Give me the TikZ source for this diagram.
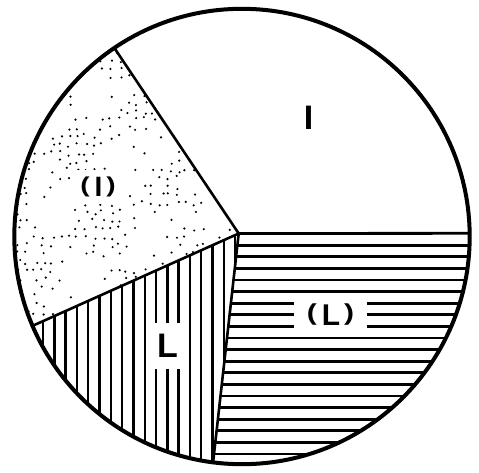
\documentclass[tikz,border=0pt]{standalone}
\usepackage{fontspec}
\setmainfont{Liberation Sans}
\usepackage{graphicx}
\usetikzlibrary{calc}
\newcommand{\lpar}{\raisebox{0.162em}{\scalebox{1}[0.77]{(}}}
\newcommand{\rpar}{\raisebox{0.162em}{\scalebox{1}[0.77]{)}}}
\tikzset{
  rim/.style={line width=4pt},
  ray/.style={line width=2.6pt},
  hstripe/.style={line width=2.8pt},
  vstripe/.style={line width=2.4pt},
  lbl/.style={inner sep=0pt, font=\bfseries},
  lblbox/.style={lbl, fill=white},
}
\begin{document}
\begin{tikzpicture}[x=1pt,y=-1pt]
\useasboundingbox (0,0) rectangle (479,473);
\coordinate (O) at (242,236.5);
\coordinate (C) at (238.7,233.5);
\coordinate (A) at ($(O)+(124.1:227.7pt)$);
\coordinate (B) at ($(O)+(0.8:227.7pt)$);
\coordinate (D) at ($(O)+(262.7:227.7pt)$);
\coordinate (E) at ($(O)+(203.1:227.7pt)$);
\coordinate (Ax) at ($(C)!1.6!(A)$);
\coordinate (Bx) at ($(C)!1.6!(B)$);
\coordinate (Dx) at ($(C)!1.6!(D)$);
\coordinate (Ex) at ($(C)!1.6!(E)$);

% stippled sector (I)
\begin{scope}
  \clip (O) circle[radius=227.7];
  \clip (C) -- (Ex) -- (-100,-100) -- (Ax) -- cycle;
  \pgfmathsetseed{2718}
  \foreach \i in {0,...,27}{
    \foreach \j in {0,...,34}{
      \pgfmathsetmacro\px{10+8.4*\i+5*rnd-2.5}
      \pgfmathsetmacro\py{44+8.4*\j+5*rnd-2.5}
      \pgfmathtruncatemacro\keep{(rnd < 0.45+0.55*sin(3.5*\px+1.2*\py)*cos(2.8*\py-0.9*\px)) ? 1 : 0}
      \ifnum\keep=1 \fill (\px,\py) circle[radius=1.2]; \fi
    }
  }
\end{scope}

% horizontal stripes (L)
\begin{scope}
  \clip (O) circle[radius=227.7];
  \clip (C) -- (Bx) -- (560,600) -- (Dx) -- cycle;
  \foreach \k in {1,...,20}
    \draw[hstripe] (150,233.5+11.6*\k) -- (480,233.5+11.6*\k);
\end{scope}

% vertical stripes L
\begin{scope}
  \clip (O) circle[radius=227.7];
  \clip (C) -- (Dx) -- (-100,600) -- (Ex) -- cycle;
  \foreach \k in {-3,...,18}
    \draw[vstripe] (43+11.3*\k,200) -- (43+11.3*\k,480);
\end{scope}

% labels
\node[lbl, font=\bfseries\fontsize{34}{34}\selectfont, anchor=base] (tI) at (308.5,130) {I};
\node[lblbox, inner sep=7pt, font=\bfseries\fontsize{28}{28}\selectfont, anchor=base] (tPI) at (98,196.7) {\lpar\hspace{5pt}I\hspace{4pt}\rpar};
\node[lblbox, minimum width=73pt, minimum height=35pt, font=\bfseries\fontsize{30}{30}\selectfont] (tPL) at (330.5,315) {\lpar\hspace{5pt}L\hspace{4pt}\rpar};
\node[lblbox, minimum width=38pt, minimum height=46pt, font=\bfseries\fontsize{34}{34}\selectfont] (tL) at (167.5,346) {L};

% sector boundaries
\draw[ray] (C) -- (A);
\draw[hstripe] (C) -- (B);
\draw[ray] (C) -- (D);
\draw[ray] (C) -- (E);

% rim
\draw[rim] (O) circle[radius=227.7];
\end{tikzpicture}
\end{document}
